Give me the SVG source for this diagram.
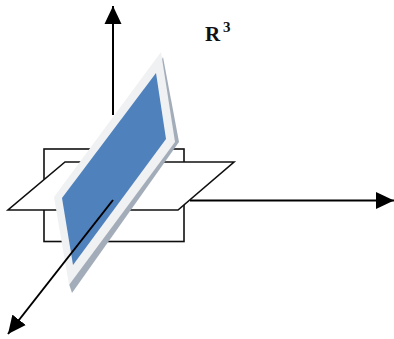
<svg xmlns="http://www.w3.org/2000/svg" width="394" height="339" viewBox="0 0 394 339">
<defs>
<marker id="head" markerUnits="userSpaceOnUse" markerWidth="20" markerHeight="18" refX="18" refY="9" orient="auto"><path d="M0 0.5L18 9L0 17.5Z" fill="#000"/></marker>
<filter id="soft" x="-5%" y="-5%" width="110%" height="110%"><feGaussianBlur stdDeviation="0.45"/></filter>
</defs>
<style>
.ln{fill:#fff;stroke:#111;stroke-width:1.6}
.ax{fill:none;stroke:#000;stroke-width:2}
.t{font-family:"Liberation Serif",serif;font-weight:bold;fill:#111}
</style>
<g filter="url(#soft)">
<g id="rect-plane"><rect class="ln" x="44" y="149" width="140" height="92.500"/></g>
<g id="horizontal-plane"><path class="ln" d="M65 162H234L178 210H8Z"/></g>
<g id="connectors">
<path class="ax" d="M190 200.500H394" marker-end="url(#head)"/>
<path class="ax" d="M113 115V6" marker-end="url(#head)"/>
</g>
<g id="blue-plane">
<path d="M163 57L179 142L72 293L69 284Z" fill="#a3adba"/>
<path d="M161 52L175 142L69 285L54 197Z" fill="#f0f1f2"/>
<path d="M156 73L166 139L73 265L62 198Z" fill="#4f81bd"/>
</g>
<g id="depth-axis"><path class="ax" d="M113 200L8 334" marker-end="url(#head)"/></g>
</g>
<g id="label"><text class="t" x="205" y="40.500" font-size="21">R</text><text class="t" x="223" y="32" font-size="15">3</text></g>
</svg>
